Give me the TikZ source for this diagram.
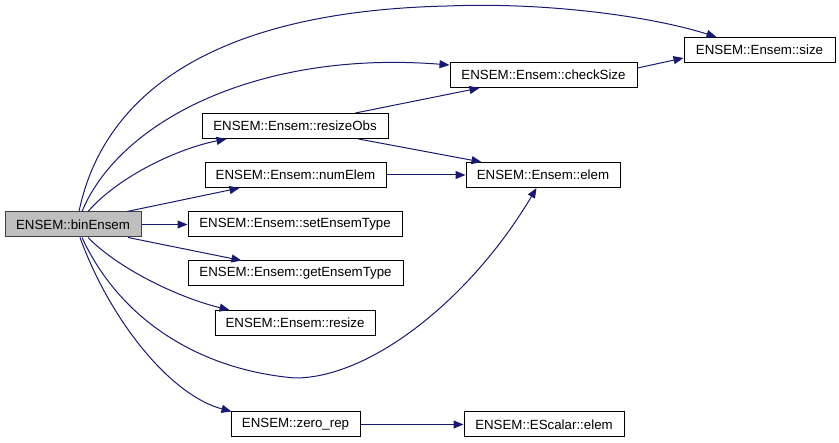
\documentclass[tikz,border=0pt]{standalone}
\usepackage{fontspec}
\setmainfont{Liberation Sans}
\usetikzlibrary{arrows.meta}
\definecolor{edgeblue}{HTML}{191970}
\begin{document}
\begin{tikzpicture}[x=1pt,y=-1pt,
  fn/.style={draw=black, line width=1pt, fill=white, minimum height=25pt, inner sep=0pt,
    font=\fontsize{13.3}{15}\selectfont},
  cur/.style={fn, fill=black!25, draw=black!75},
  call/.style={draw=edgeblue, line width=1pt, -{Triangle[length=10pt,width=8pt]}}]
\useasboundingbox (0,0) rectangle (839,443);
\node[cur, minimum width=136pt] (bin) at (73,224.5) {ENSEM::binEnsem};
\node[fn, minimum width=186pt] (robs) at (295,126) {ENSEM::Ensem::resizeObs};
\node[fn, minimum width=181pt] (nel) at (295.5,175) {ENSEM::Ensem::numElem};
\node[fn, minimum width=214pt] (set) at (295,224.5) {ENSEM::Ensem::setEnsemType};
\node[fn, minimum width=215pt] (get) at (295.5,273.5) {ENSEM::Ensem::getEnsemType};
\node[fn, minimum width=160pt] (rsz) at (295,323) {ENSEM::Ensem::resize};
\node[fn, minimum width=129pt] (zr) at (295.5,424.5) {ENSEM::zero\_rep};
\node[fn, minimum width=160pt] (esc) at (544,424.5) {ENSEM::EScalar::elem};
\node[fn, minimum width=154pt] (elem) at (543,175) {ENSEM::Ensem::elem};
\node[fn, minimum width=187pt] (chk) at (543.5,75) {ENSEM::Ensem::checkSize};
\node[fn, minimum width=151pt] (size) at (759.5,50) {ENSEM::Ensem::size};
% edges from binEnsem
\draw[call] ([xshift=6pt]bin.north) .. controls (100,110) and (190,12) .. (447,6)
  .. controls (545,2) and (650,16) .. ([xshift=33pt]size.north west);
\draw[call] ([xshift=9pt]bin.north) .. controls (120,120) and (260,50) .. ([yshift=10pt]chk.west);
\draw[call] ([xshift=15pt]bin.north) .. controls (120,175) and (180,148) .. ([xshift=25pt]robs.south west);
\draw[call] ([xshift=54pt]bin.north) -- ([xshift=35pt]nel.south west);
\draw[call] (bin.east) -- (set.west);
\draw[call] ([xshift=55pt]bin.south) -- ([xshift=54pt]get.north west);
\draw[call] ([xshift=15pt]bin.south) .. controls (120,270) and (180,298) .. ([xshift=15pt]rsz.north west);
\draw[call] ([xshift=9pt]bin.south) .. controls (120,320) and (200,370) .. (295,378)
  .. controls (370,378) and (470,300) .. ([xshift=71pt]elem.south west);
\draw[call] ([xshift=7pt]bin.south) .. controls (110,320) and (170,395) .. ([xshift=1pt]zr.north west);
% other edges
\draw[call] ([xshift=-33pt]robs.north east) -- ([xshift=30pt]chk.south west);
\draw[call] ([xshift=-30pt]robs.south east) -- ([xshift=16pt]elem.north west);
\draw[call] (nel.east) -- (elem.west);
\draw[call] ([yshift=7pt]chk.east) -- ([yshift=-8pt]size.west);
\draw[call] (zr.east) -- (esc.west);
\end{tikzpicture}
\end{document}
